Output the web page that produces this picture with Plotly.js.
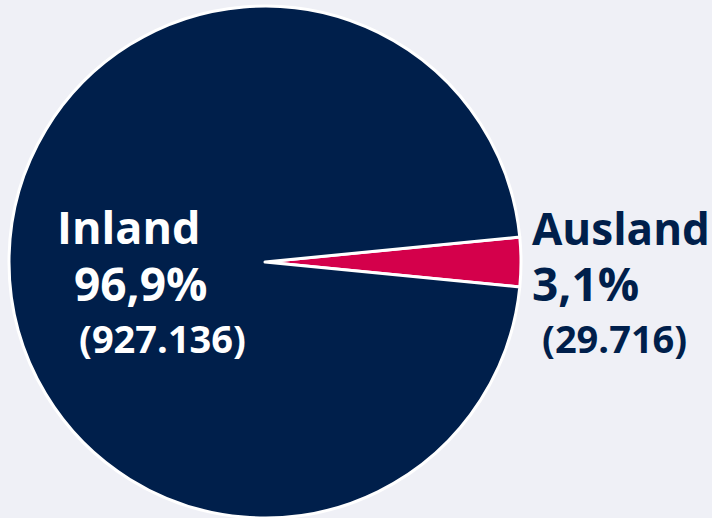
<!DOCTYPE html>
<html><head><meta charset="utf-8">
<script src="https://cdn.plot.ly/plotly-3.0.1.min.js"></script>
<style>html,body{margin:0;padding:0;background:#eff0f6;}</style>
</head><body>
<div id="chart" style="width:712px;height:518px;"></div>
<script>
const labels = ['Ausland', 'Inland'];
const values = [29716, 927136];
const percentLabels = ['3,1%', '96,9%'];
const countLabels = ['(29.716)', '(927.136)'];
const colors = ['#d4004b', '#001f4b'];

const W = 712, H = 518;
const px = (x) => x / W, py = (y) => 1 - y / H;
const font = 'Open Sans, sans-serif';

function ann(text, x, y, size, color) {
  return {text: '<b>' + text + '</b>', x: px(x), y: py(y), xref: 'paper', yref: 'paper',
    xanchor: 'left', yanchor: 'middle', showarrow: false,
    font: {family: font, size: size, color: color}};
}

const annotations = [
  ann(labels[1], 55, 226, 45, '#ffffff'),
  ann(percentLabels[1], 72, 283, 46, '#ffffff'),
  ann(countLabels[1], 77, 338, 38, '#ffffff'),
  ann(labels[0], 530, 228, 44, '#001f4b'),
  ann(percentLabels[0], 530, 283, 46, '#001f4b'),
  ann(countLabels[0], 540, 338, 38, '#001f4b')
];

Plotly.newPlot('chart', [{
  type: 'pie', labels: labels, values: values, sort: false,
  direction: 'clockwise', rotation: 84.4,
  marker: {colors: colors, line: {color: '#ffffff', width: 3}},
  textinfo: 'none', hoverinfo: 'none',
  domain: {x: [px(9), px(521)], y: [0, py(6)]}
}], {
  width: W, height: H, margin: {l: 0, r: 0, t: 0, b: 0},
  paper_bgcolor: '#eff0f6', plot_bgcolor: '#eff0f6',
  showlegend: false, annotations: annotations
}, {displayModeBar: false, staticPlot: true});
</script>
</body></html>
